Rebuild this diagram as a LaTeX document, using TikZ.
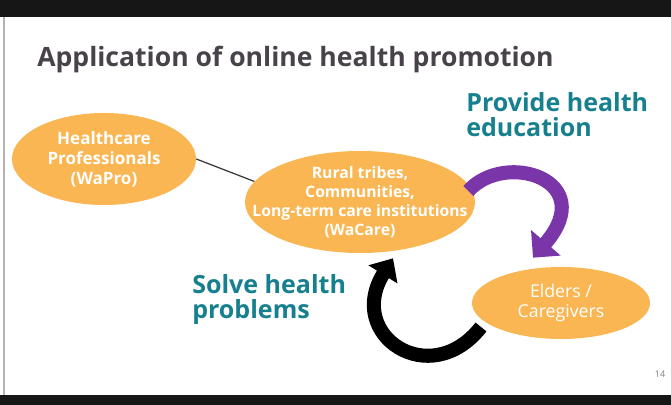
\documentclass[tikz,border=0pt]{standalone}
\usepackage{fontspec}
\setmainfont{Open Sans}
\usepackage{tikz}
\usetikzlibrary{shapes,arrows.meta}
\definecolor{bubbleorange}{HTML}{F9B653}
\definecolor{actionteal}{HTML}{17808F}
\definecolor{titlegray}{HTML}{48434A}
\definecolor{arrowpurple}{HTML}{7A36A8}
\definecolor{barblack}{HTML}{161616}
\definecolor{linkgray}{HTML}{3A3A3A}
\tikzset{
  bubble/.style   = {ellipse, fill=bubbleorange, text=white, inner sep=0pt, align=center},
  heading/.style  = {anchor=base west, inner sep=0pt, text=titlegray, font=\fontsize{18.9}{23}\selectfont\bfseries},
  action/.style   = {anchor=north west, inner sep=0pt, align=left, text=actionteal, font=\fontsize{17.8}{17.8}\selectfont\bfseries},
  bigarrow/.style = {line width=10pt}
}

\begin{document}
\begin{tikzpicture}[x=0.025cm, y=-0.025cm]
\useasboundingbox (0,0) rectangle (671,405);

% Slide frame
\fill[white] (0,0) rectangle (671,405);
\fill[barblack] (0,0) rectangle (671,17);
\fill[barblack] (0,395) rectangle (671,405);
\draw[gray!60, line width=0.8pt] (4,17) -- (4,395);

% Title
\draw node [heading, name=title] at (37,67) {Application of online health promotion};

% Groups
\draw node [bubble, name=wapro, minimum width=4.6cm, minimum height=2.3cm,
  font=\fontsize{12.1}{14.2}\selectfont\bfseries] at (104,159) {Healthcare\\Professionals\\(WaPro)};
\draw node [bubble, name=wacare, minimum width=5.75cm, minimum height=2.55cm,
  inner xsep=-1cm, inner ysep=-0.3cm,
  font=\fontsize{11.2}{13.5}\selectfont\bfseries] at (360,202) {Rural tribes,\\Communities,\\Long-term care institutions\\(WaCare)};
\draw node [bubble, name=elders, minimum width=4.45cm, minimum height=1.8cm,
  font=\fontsize{12.6}{14.2}\selectfont] at (561,303) {Elders /\\Caregivers};

% Labels
\draw node [action, name=educate] at (466,92) {Provide health\\education};
\draw node [action, name=solve] at (192,274) {Solve health\\problems};
\draw node [font=\fontsize{6.5}{7}\selectfont, text=gray, name=pagenum] at (660,374) {14};

% Connections
\draw[linkgray, line width=0.9pt] (wapro.east) -- (wacare.169);
\draw[bigarrow, arrowpurple, -{Triangle[length=14pt,width=27pt]}]
  ([shift={(-7,-11)}]wacare.east) .. controls (505,150) and (600,180) .. ([shift={(-28,-9)}]elders.north);
\draw[bigarrow, black, -{Triangle[length=13.5pt,width=23.5pt]}]
  ([shift={(-80,24)}]elders.center) .. controls (430,392) and (345,335) .. ([shift={(33,5)}]wacare.south);

\end{tikzpicture}
\end{document}
